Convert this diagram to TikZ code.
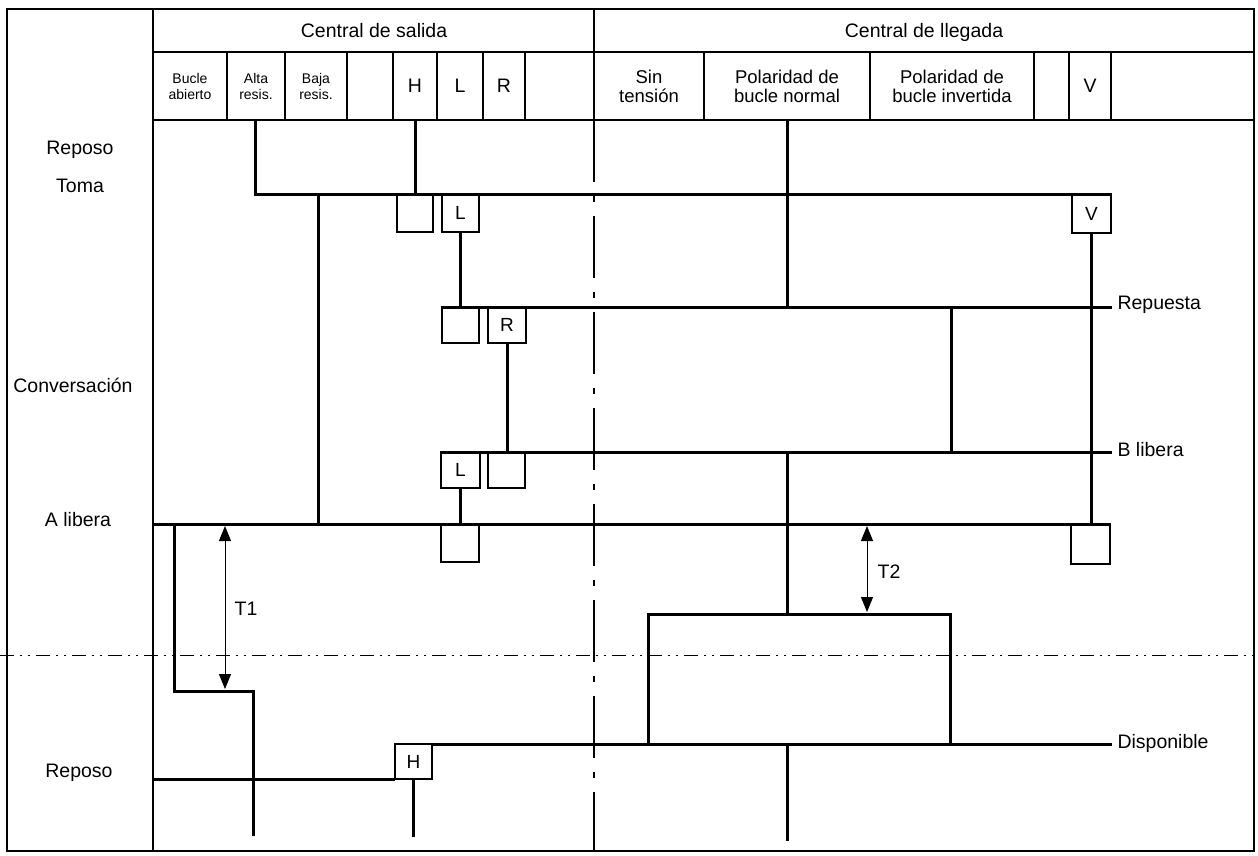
\documentclass[tikz,border=0pt]{standalone}
\usepackage{fontspec}
\setmainfont{Liberation Sans}
\usetikzlibrary{arrows.meta}
\begin{document}
\begin{tikzpicture}[x=1pt,y=-1pt,
  sig/.style={line width=3pt},
  tbl/.style={line width=1.5pt},
  thinarrow/.style={line width=1pt,{Triangle[width=12pt,length=15pt]}-{Triangle[width=12pt,length=15pt]}},
  bx/.style={draw,line width=2.8pt,inner sep=0pt,outer sep=0pt,anchor=north west,font=\fontsize{19}{20}\selectfont},
  lbl/.style={font=\fontsize{19.5}{22}\selectfont},
  rlbl/.style={font=\fontsize{19.5}{22}\selectfont,anchor=west},
  hbig/.style={font=\fontsize{18.5}{19}\selectfont,align=center},
  hsmall/.style={font=\fontsize{14}{16}\selectfont,align=center},
  ddh/.style={line width=0.9pt,dash pattern=on 14pt off 6pt on 2pt off 6pt on 2pt off 6pt},
  ddv/.style={line width=2.2pt,dash pattern=on 62pt off 14pt on 6pt off 14pt}
]
\useasboundingbox (0,0) rectangle (1258,855);
% ---------- frame and header table ----------
\coordinate (fTL) at (7,9);
\coordinate (fBR) at (1254,851);
\draw[tbl] (fTL) rectangle (fBR);
\coordinate (cT) at (153,9);
\coordinate (cB) at (153,851);
\draw[tbl] (cT) -- (cB);
\coordinate (r1L) at (153,52);
\coordinate (r1R) at (1254,52);
\draw[tbl] (r1L) -- (r1R);
\coordinate (r2L) at (153,120);
\coordinate (r2R) at (1254,120);
\draw[tbl] (r2L) -- (r2R);
\coordinate (mT) at (594,9);
\coordinate (mH) at (594,120);
\coordinate (mB) at (594,851);
\draw[tbl,line width=1.8pt] (mT) -- (mH);
\draw[ddv] (mH) -- (mB);
\foreach \x/\n in {227/a,285/b,347/c,393/d,437/e,483/f,525/g,704/h,870/i,1034/j,1069/k,1111/l}{
  \coordinate (hd\n t) at (\x,52);
  \coordinate (hd\n b) at (\x,120);
  \draw[tbl] (hd\n t) -- (hd\n b);
}
\node[lbl] (hsal) at (374,31) {Central de salida};
\node[lbl] (hlle) at (924,32) {Central de llegada};
\node[hsmall] (hbu) at (190,86) {Bucle\\abierto};
\node[hsmall] (hal) at (256,86) {Alta\\resis.};
\node[hsmall] (hba) at (316,86) {Baja\\resis.};
\node[lbl] (hh) at (415,86) {H};
\node[lbl] (hl) at (460,86) {L};
\node[lbl] (hr) at (504,86) {R};
\node[hbig] (hsin) at (649,86) {Sin\\tensión};
\node[hbig] (hpn) at (787,86) {Polaridad de\\bucle normal};
\node[hbig] (hpi) at (952,86) {Polaridad de\\bucle invertida};
\node[lbl] (hv) at (1090,86) {V};
% ---------- left labels ----------
\node[lbl] (lrep1) at (80,150) {Reposo};
\node[lbl] (ltoma) at (80,186) {Toma};
\node[lbl] (lconv) at (73,385) {Conversación};
\node[lbl] (lalib) at (78,520) {A libera};
\node[lbl] (lrep2) at (79,773) {Reposo};
% ---------- horizontal dash-dot ----------
\coordinate (ddL) at (0,655);
\coordinate (ddR) at (1254,655);
\draw[ddh] (ddL) -- (ddR);
% ---------- boxes ----------
\node[bx,minimum width=36pt,minimum height=38pt] (bH1) at (397,194) {};
\node[bx,minimum width=37pt,minimum height=38pt] (bL1) at (442,194) {L};
\node[bx,minimum width=39pt,minimum height=39pt] (bV1) at (1072,194) {V};
\node[bx,minimum width=37pt,minimum height=36pt] (bL2) at (442,307) {};
\node[bx,minimum width=38pt,minimum height=36pt] (bR1) at (488,307) {R};
\node[bx,minimum width=39pt,minimum height=36pt] (bL3) at (441,452) {L};
\node[bx,minimum width=37pt,minimum height=36pt] (bR2) at (488,452) {};
\node[bx,minimum width=38pt,minimum height=38pt] (bL4) at (441,524) {};
\node[bx,minimum width=39pt,minimum height=40pt] (bV2) at (1071,524) {};
\node[bx,minimum width=37pt,minimum height=35pt] (bH2) at (395,744) {H};
% ---------- signal lines ----------
\coordinate (aT) at (255,120);
\coordinate (aB) at (255,194);
\coordinate (tomaR) at (1111,194);
\draw[sig] (aT) -- (aB) -- (tomaR);
\coordinate (hT) at (415,120);
\draw[sig] (hT) -- (hT |- bH1.north);
\coordinate (repL) at (442,307);
\coordinate (repR) at (1112,307);
\draw[sig] (bL1.south) -- (bL1.south |- repL);
\draw[sig] (repL) -- (repR);
\node[rlbl] (trep) at (1114,305) {Repuesta};
\coordinate (pnT) at (787,120);
\draw[sig] (pnT) -- (pnT |- repL);
\coordinate (alibL) at (153,524);
\coordinate (alibR) at (1110,524);
\draw[sig] (bV1.south) -- (bV1.south |- alibL);
\coordinate (piT) at (951,307);
\coordinate (piB) at (951,452);
\draw[sig] (piT) -- (piB);
\coordinate (blibL) at (441,452);
\coordinate (blibR) at (1112,452);
\draw[sig] (bR1.south) -- (bR1.south |- blibL);
\draw[sig] (blibL) -- (blibR);
\node[rlbl] (tblib) at (1114,450) {B libera};
\coordinate (pn2T) at (787,452);
\coordinate (pn2B) at (787,614);
\draw[sig] (pn2T) -- (pn2B);
\draw[sig] (bL3.south) -- (bL3.south |- alibL);
\draw[sig] (alibL) -- (alibR);
\coordinate (baT) at (318,194);
\coordinate (baB) at (318,524);
\draw[sig] (baT) -- (baB);
\coordinate (s1) at (174,524);
\coordinate (s2) at (174,691);
\coordinate (s3) at (253,691);
\coordinate (s4) at (253,836);
\draw[sig] (s1) -- (s2) -- (s3) -- (s4);
\coordinate (t1T) at (225,526);
\coordinate (t1B) at (225,689);
\draw[thinarrow] (t1T) -- (t1B);
\node[lbl] (tT1) at (246,609) {T1};
\coordinate (t2T) at (867,526);
\coordinate (t2B) at (867,612);
\draw[thinarrow] (t2T) -- (t2B);
\node[lbl] (tT2) at (889,572) {T2};
\coordinate (bgA) at (648,744);
\coordinate (bgB) at (648,614);
\coordinate (bgC) at (950,614);
\coordinate (bgD) at (950,744);
\draw[sig] (bgA) -- (bgB) -- (bgC) -- (bgD);
\coordinate (dispR) at (1112,744);
\draw[sig] (bH2.north east) -- (dispR);
\node[rlbl] (tdisp) at (1114,743) {Disponible};
\coordinate (rp2L) at (153,779);
\draw[sig] (rp2L) -- (bH2.south west);
\coordinate (hbB) at (413,837);
\draw[sig] (bH2.south -| hbB) -- (hbB);
\coordinate (pn3B) at (787,841);
\draw[sig] (pn3B |- bH2.north) -- (pn3B);
\end{tikzpicture}
\end{document}
